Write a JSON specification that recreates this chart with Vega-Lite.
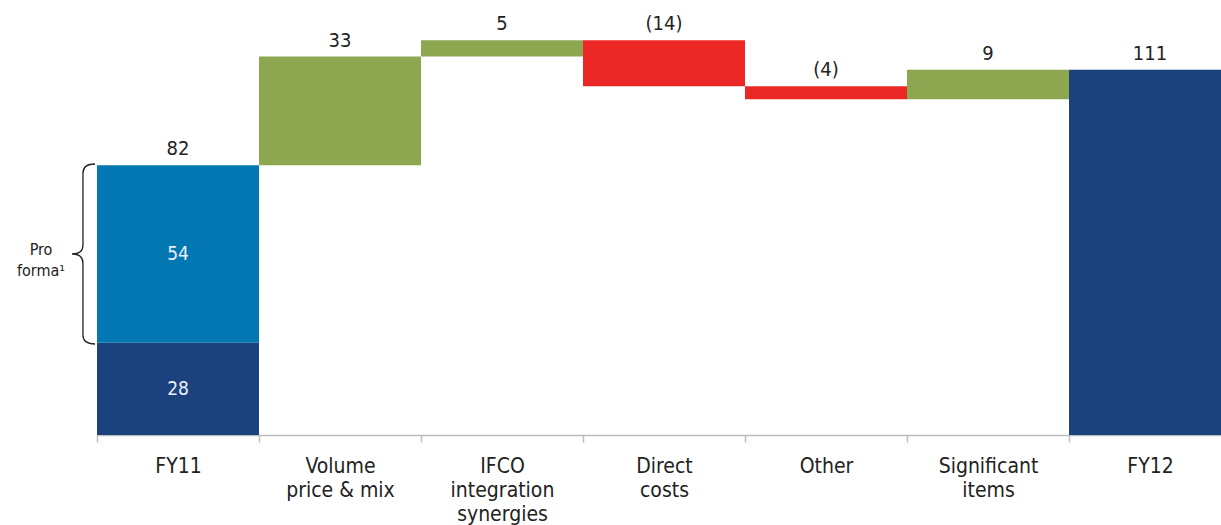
{
  "$schema": "https://vega.github.io/schema/vega-lite/v6.json",
  "width": 1124,
  "height": 435,
  "autosize": {"type": "none"},
  "padding": {"left": 97, "top": 0, "right": 0, "bottom": 90},
  "background": "white",
  "config": {
    "view": {"stroke": null},
    "font": "DejaVu Sans Condensed",
    "text": {"font": "DejaVu Sans Condensed"}
  },
  "datasets": {
    "steps": [
      {"step": "FY11", "lo": 0, "hi": 28, "kind": "base", "inner": "28"},
      {"step": "FY11", "lo": 28, "hi": 82, "kind": "proforma", "inner": "54"},
      {"step": "Volume|price & mix", "lo": 82, "hi": 115, "kind": "up"},
      {"step": "IFCO|integration|synergies", "lo": 115, "hi": 120, "kind": "up"},
      {"step": "Direct|costs", "lo": 106, "hi": 120, "kind": "down"},
      {"step": "Other", "lo": 102, "hi": 106, "kind": "down"},
      {"step": "Significant|items", "lo": 102, "hi": 111, "kind": "up"},
      {"step": "FY12", "lo": 0, "hi": 111, "kind": "total"}
    ],
    "tops": [
      {"step": "FY11", "at": 82, "text": "82"},
      {"step": "Volume|price & mix", "at": 115, "text": "33"},
      {"step": "IFCO|integration|synergies", "at": 120, "text": "5"},
      {"step": "Direct|costs", "at": 120, "text": "(14)"},
      {"step": "Other", "at": 106, "text": "(4)"},
      {"step": "Significant|items", "at": 111, "text": "9"},
      {"step": "FY12", "at": 111, "text": "111"}
    ]
  },
  "encoding": {
    "x": {
      "field": "step",
      "type": "nominal",
      "sort": null,
      "scale": {
        "domain": ["FY11", "Volume|price & mix", "IFCO|integration|synergies", "Direct|costs", "Other", "Significant|items", "FY12"],
        "range": [0, 1134],
        "paddingInner": 0,
        "paddingOuter": 0
      },
      "axis": {
        "title": null,
        "labelAngle": 0,
        "labelExpr": "split(datum.label, '|')",
        "labelFont": "DejaVu Sans Condensed",
        "labelFontSize": 21,
        "labelColor": "#222222",
        "labelLineHeight": 24,
        "labelPadding": 13,
        "labelLimit": 200,
        "tickBand": "extent",
        "tickSize": 7,
        "tickColor": "#BDBDBD",
        "tickWidth": 1.5,
        "domainColor": "#BDBDBD",
        "domainWidth": 1.5
      }
    }
  },
  "layer": [
    {
      "data": {"name": "steps"},
      "mark": {"type": "bar", "clip": true},
      "encoding": {
        "y": {
          "field": "lo",
          "type": "quantitative",
          "scale": {"domain": [0, 132.2], "nice": false, "zero": true},
          "axis": null
        },
        "y2": {"field": "hi"},
        "color": {
          "field": "kind",
          "type": "nominal",
          "scale": {
            "domain": ["base", "proforma", "up", "down", "total"],
            "range": ["#1C427D", "#0377B1", "#8DA650", "#EC2826", "#1C427D"]
          },
          "legend": null
        }
      }
    },
    {
      "data": {"name": "steps"},
      "transform": [
        {"filter": "isValid(datum.inner)"},
        {"calculate": "(datum.lo + datum.hi) / 2", "as": "mid"}
      ],
      "mark": {"type": "text", "fontSize": 19, "color": "#E8F1F8", "baseline": "middle", "align": "center"},
      "encoding": {
        "y": {"field": "mid", "type": "quantitative"},
        "text": {"field": "inner"}
      }
    },
    {
      "data": {"name": "tops"},
      "mark": {"type": "text", "fontSize": 20, "color": "#222222", "baseline": "alphabetic", "align": "center", "dy": -10},
      "encoding": {
        "y": {"field": "at", "type": "quantitative"},
        "text": {"field": "text"}
      }
    },
    {
      "data": {"name": "steps"},
      "transform": [
        {"filter": "datum.kind == 'proforma'"},
        {"calculate": "(datum.lo + datum.hi) / 2", "as": "mid"}
      ],
      "mark": {
        "type": "point",
        "shape": "M -0.922 -1 Q -1.056 -1 -1.056 -0.9 L -1.056 -0.1 Q -1.056 0 -1.178 0 Q -1.056 0 -1.056 0.1 L -1.056 0.9 Q -1.056 1 -0.922 1",
        "size": 32400,
        "filled": false,
        "stroke": "#222222",
        "strokeWidth": 1.3,
        "opacity": 1
      },
      "encoding": {
        "y": {"field": "mid", "type": "quantitative"}
      }
    },
    {
      "data": {"name": "steps"},
      "transform": [
        {"filter": "datum.kind == 'proforma'"},
        {"calculate": "(datum.lo + datum.hi) / 2", "as": "mid"}
      ],
      "mark": {"type": "text", "fontSize": 16, "color": "#222222", "align": "center", "baseline": "middle", "dx": -137, "dy": -4, "lineHeight": 21},
      "encoding": {
        "y": {"field": "mid", "type": "quantitative"},
        "text": {"value": ["Pro", "forma¹"]}
      }
    }
  ]
}
